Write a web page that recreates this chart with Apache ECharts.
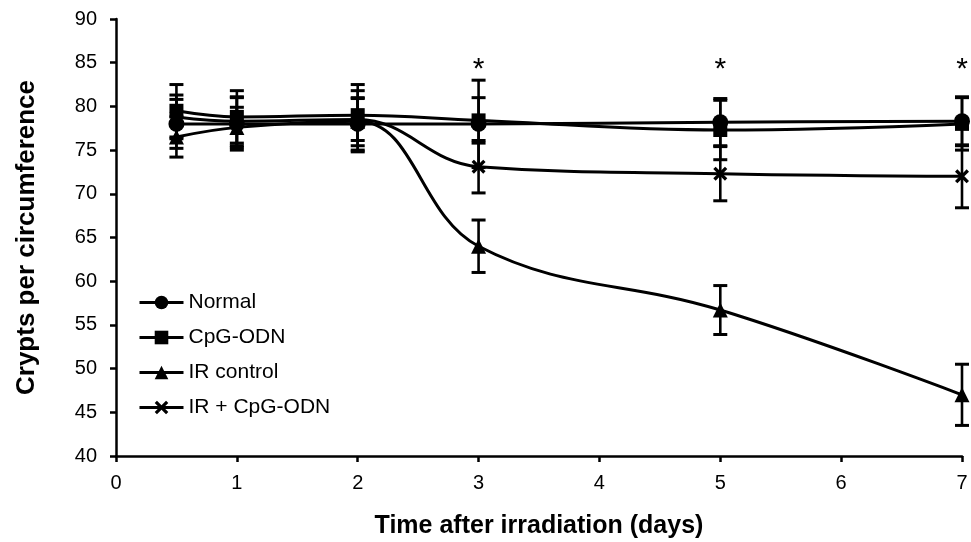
<!DOCTYPE html>
<html>
<head>
<meta charset="utf-8">
<script src="https://cdn.jsdelivr.net/npm/echarts@6/dist/echarts.min.js"></script>
<style>
html,body{margin:0;padding:0;background:#fff;}
#chart{width:971px;height:542px;}
</style>
</head>
<body>
<div id="chart"></div>
<script>
// ---- data ----
const days = [0.5, 1, 2, 3, 5, 7];
const normal = [78.0, 78.0, 78.0, 78.0, 78.2, 78.3];
const normalErr = [2.8, 3.0, 3.0, 5.0, 2.7, 2.8];
const cpg = [79.5, 78.8, 79.0, 78.4, 77.3, 78.0];
const cpgErr = [3.0, 3.0, 3.5, 2.6, 3.4, 3.0];
const irControl = [76.5, 77.6, 78.3, 64.0, 56.7, 47.0];
const irControlErr = [2.3, 2.3, 3.5, 3.0, 2.8, 3.5];
const irCpg = [78.8, 78.3, 78.5, 73.1, 72.3, 72.0];
const irCpgErr = [2.5, 2.8, 2.4, 3.0, 3.1, 3.6];
const sigDays = [3, 5, 7];
const sigLevel = [84.2, 84.2, 84.2];
const seriesNames = ['Normal', 'CpG-ODN', 'IR control', 'IR + CpG-ODN'];

const FONT = "'Liberation Sans', Arial, sans-serif";
const xSymbol = 'path://M2,0 L6,4 L10,0 L12,2 L8,6 L12,10 L10,12 L6,8 L2,12 L0,10 L4,6 L0,2 Z';

function pts(vals) { return days.map((d, i) => [d, vals[i]]); }
function errPts(vals, errs) { return days.map((d, i) => [d, vals[i], errs[i]]); }

function errorSeries(vals, errs) {
  return {
    type: 'custom',
    data: errPts(vals, errs),
    z: 1,
    silent: true,
    renderItem: function (params, api) {
      const x = api.value(0), y = api.value(1), e = api.value(2);
      const hi = api.coord([x, y + e]);
      const lo = api.coord([x, y - e]);
      const hw = 7;
      const st = { stroke: '#000', lineWidth: 2.6 };
      return {
        type: 'group',
        children: [
          { type: 'line', shape: { x1: hi[0], y1: hi[1], x2: lo[0], y2: lo[1] }, style: st },
          { type: 'line', shape: { x1: hi[0] - hw, y1: hi[1], x2: hi[0] + hw, y2: hi[1] }, style: { stroke: '#000', lineWidth: 3 } },
          { type: 'line', shape: { x1: lo[0] - hw, y1: lo[1], x2: lo[0] + hw, y2: lo[1] }, style: { stroke: '#000', lineWidth: 3 } }
        ]
      };
    }
  };
}

function lineSeries(name, vals, symbol, size) {
  return {
    name: name,
    type: 'line',
    data: pts(vals),
    smooth: 0.4,
    symbol: symbol,
    symbolSize: size,
    z: 3,
    lineStyle: { color: '#000', width: 3 },
    itemStyle: { color: '#000' }
  };
}

const chart = echarts.init(document.getElementById('chart'), null, { renderer: 'canvas' });
chart.setOption({
  animation: false,
  backgroundColor: '#fff',
  textStyle: { fontFamily: FONT },
  grid: { left: 116, right: 9, top: 19, bottom: 86, containLabel: false, outerBoundsMode: 'none' },
  legend: {
    data: seriesNames,
    orient: 'vertical',
    left: 133,
    top: 287,
    padding: 5,
    itemWidth: 44,
    itemHeight: 17,
    itemGap: 14,
    lineStyle: { width: 3, color: '#000' },
    textStyle: { fontFamily: FONT, fontSize: 21, color: '#000' }
  },
  xAxis: {
    type: 'value',
    min: 0, max: 7, interval: 1,
    name: 'Time after irradiation (days)',
    nameLocation: 'middle',
    nameGap: 58,
    nameTextStyle: { fontFamily: FONT, fontSize: 25, fontWeight: 'bold', color: '#000' },
    axisLine: { show: true, onZero: false, lineStyle: { color: '#000', width: 2.5 } },
    axisTick: { show: true, length: 6, lineStyle: { color: '#000', width: 2.5 } },
    axisLabel: { fontFamily: FONT, fontSize: 20, color: '#000', margin: 17 },
    splitLine: { show: false }
  },
  yAxis: {
    type: 'value',
    min: 40, max: 90, interval: 5,
    name: 'Crypts per circumference',
    nameLocation: 'middle',
    nameGap: 76,
    nameTextStyle: { fontFamily: FONT, fontSize: 26, fontWeight: 'bold', color: '#000' },
    axisLine: { show: true, lineStyle: { color: '#000', width: 2.5 } },
    axisTick: { show: true, length: 6, lineStyle: { color: '#000', width: 2.5 } },
    axisLabel: { fontFamily: FONT, fontSize: 20, color: '#000', margin: 19 },
    splitLine: { show: false }
  },
  series: [
    errorSeries(normal, normalErr),
    errorSeries(cpg, cpgErr),
    errorSeries(irControl, irControlErr),
    errorSeries(irCpg, irCpgErr),
    lineSeries('Normal', normal, 'circle', 16),
    lineSeries('CpG-ODN', cpg, 'rect', 14),
    lineSeries('IR control', irControl, 'triangle', 15),
    lineSeries('IR + CpG-ODN', irCpg, xSymbol, 14),
    {
      type: 'scatter',
      data: sigDays.map((d, i) => [d, sigLevel[i]]),
      symbol: 'circle',
      symbolSize: 2,
      itemStyle: { color: 'rgba(0,0,0,0)' },
      silent: true,
      z: 5,
      label: {
        show: true,
        position: 'inside',
        formatter: '*',
        fontFamily: FONT,
        fontSize: 30,
        color: '#000',
        opacity: 1
      }
    }
  ]
});
</script>
</body>
</html>
